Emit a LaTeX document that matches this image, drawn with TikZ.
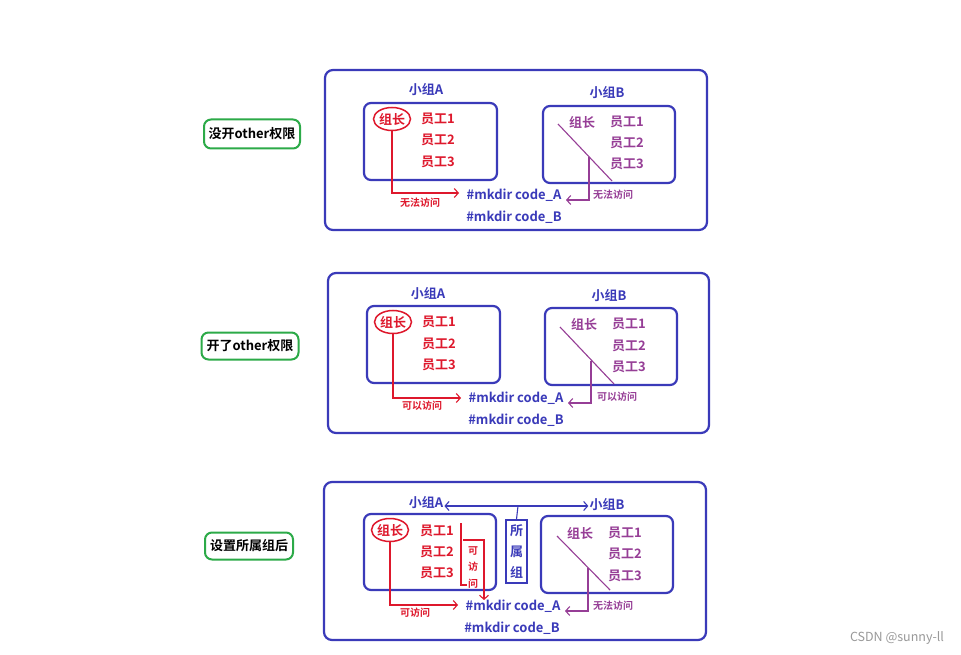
\documentclass[tikz,border=0pt]{standalone}
\usepackage{fontspec}
\setmainfont{Noto Sans CJK SC}[BoldFont={Noto Sans CJK SC Bold}]
\usetikzlibrary{arrows.meta,shapes.geometric}
\definecolor{cblue}{RGB}{58,58,185}
\definecolor{cred}{RGB}{222,24,44}
\definecolor{cpur}{RGB}{150,62,150}
\definecolor{cgreen}{RGB}{44,170,72}
\tikzset{
  outerbox/.style={draw=cblue,line width=2.2,rounded corners=8,inner sep=0,minimum width=#1},
  grpbox/.style={draw=cblue,line width=2.2,rounded corners=7,inner sep=0},
  hdr/.style={text=cblue,font=\bfseries\fontsize{13}{15}\selectfont,inner sep=0},
  memr/.style={text=cred,font=\bfseries\fontsize{13}{15}\selectfont,inner sep=0},
  memp/.style={text=cpur,font=\bfseries\fontsize{13}{15}\selectfont,inner sep=0},
  cmd/.style={text=cblue,font=\bfseries\fontsize{13}{15}\selectfont,inner sep=0},
  lblr/.style={text=cred,font=\bfseries\fontsize{10}{12}\selectfont,inner sep=0},
  lblp/.style={text=cpur,font=\bfseries\fontsize{10}{12}\selectfont,inner sep=0},
  tagbox/.style={draw=cgreen,line width=2,rounded corners=7,inner sep=0,text=black,font=\bfseries\fontsize{13}{15}\selectfont},
  leader/.style={ellipse,draw=cred,line width=1.5,text=cred,font=\bfseries\fontsize{13}{15}\selectfont,inner sep=0,minimum width=37,minimum height=23},
  rarr/.style={draw=cred,line width=1.1,-{Straight Barb[length=4,width=9]}},
  parr/.style={draw=cpur,line width=1.1,-{Straight Barb[length=4,width=9]}},
  diagl/.style={draw=cpur,line width=1.1},
}
\begin{document}
\begin{tikzpicture}[x=1pt,y=-1pt]
\useasboundingbox[fill=white] (0,0) rectangle (961,655);
% ===== Panel 1 =====
\node[outerbox=382,minimum height=160] (outer1) at (516,150) {};
\node[tagbox,minimum width=96,minimum height=29] (tag1) at (252,134) {没开other权限};
\node[hdr] (hA1) at (426,90) {小组A};
\node[grpbox,minimum width=133,minimum height=77] (boxA1) at (430.5,141.5) {};
\node[leader] (lead1) at (392,119) {组长};
\node[memr] (a11) at (438,119) {员工1};
\node[memr] (a12) at (438,140) {员工2};
\node[memr] (a13) at (438,162) {员工3};
\node[hdr] (hB1) at (607,93) {小组B};
\node[grpbox,minimum width=132,minimum height=77] (boxB1) at (609,144.5) {};
\node[memp] (lb1) at (582,122) {组长};
\node[memp] (b11) at (627,122) {员工1};
\node[memp] (b12) at (627,143) {员工2};
\node[memp] (b13) at (627,164) {员工3};
\coordinate (d1s) at (558,124);
\coordinate (d1e) at (612,181);
\draw[diagl] (d1s) -- (d1e);
\coordinate (p1) at (589,157);
\node[cmd] (cmdA1) at (514,195) {\#mkdir code\_A};
\node[cmd] (cmdB1) at (514,217) {\#mkdir code\_B};
\coordinate (t1r) at (459,193);
\coordinate (t1p) at (566,200);
\draw[rarr] (lead1.south) |- (t1r);
\draw[parr] (p1) |- (t1p);
\node[lblr] (l1r) at (420,203) {无法访问};
\node[lblp] (l1p) at (613,195) {无法访问};
% ===== Panel 2 =====
\node[outerbox=381,minimum height=160] (outer2) at (518.5,353) {};
\node[tagbox,minimum width=97,minimum height=27] (tag2) at (250,346) {开了other权限};
\node[hdr] (hA2) at (428,294) {小组A};
\node[grpbox,minimum width=133,minimum height=77] (boxA2) at (433.5,344.5) {};
\node[leader] (lead2) at (393,322) {组长};
\node[memr] (a21) at (439,322) {员工1};
\node[memr] (a22) at (439,344) {员工2};
\node[memr] (a23) at (439,365) {员工3};
\node[hdr] (hB2) at (609,296) {小组B};
\node[grpbox,minimum width=132,minimum height=77] (boxB2) at (611,346.5) {};
\node[memp] (lb2) at (584,324) {组长};
\node[memp] (b21) at (629,324) {员工1};
\node[memp] (b22) at (629,346) {员工2};
\node[memp] (b23) at (629,367) {员工3};
\coordinate (d2s) at (560,327);
\coordinate (d2e) at (614,384);
\draw[diagl] (d2s) -- (d2e);
\coordinate (p2) at (591,360.5);
\node[cmd] (cmdA2) at (516,398) {\#mkdir code\_A};
\node[cmd] (cmdB2) at (516,420) {\#mkdir code\_B};
\coordinate (t2r) at (461,398);
\coordinate (t2p) at (568,403);
\draw[rarr] (lead2.south) |- (t2r);
\draw[parr] (p2) |- (t2p);
\node[lblr] (l2r) at (422,406) {可以访问};
\node[lblp] (l2p) at (617,397) {可以访问};
% ===== Panel 3 =====
\node[outerbox=382,minimum height=158] (outer3) at (515,561) {};
\node[tagbox,minimum width=88,minimum height=27] (tag3) at (249,546) {设置所属组后};
\node[hdr] (hA3) at (426,503) {小组A};
\node[hdr] (hB3) at (607,505) {小组B};
\node[grpbox,minimum width=132,minimum height=76] (boxA3) at (430,552) {};
\node[leader] (lead3) at (390,530) {组长};
\node[memr] (a31) at (437,531) {员工1};
\node[memr] (a32) at (437,552) {员工2};
\node[memr] (a33) at (437,573) {员工3};
\coordinate (br1) at (461,523);
\coordinate (br2) at (461,585);
\coordinate (br3) at (467,585);
\draw[draw=cred,line width=1.1] (br1) -- (br2) -- (br3);
\coordinate (ka1) at (463,540);
\coordinate (ka2) at (484,540);
\coordinate (ka3) at (484,600);
\draw[rarr] (ka1) -- (ka2) -- (ka3);
\node[lblr,align=center,font=\bfseries\fontsize{10}{16.5}\selectfont] (kfw) at (473,567.5) {可\\访\\问};
\node[draw=cblue,line width=1.6,minimum width=21,minimum height=63,inner sep=0,text=cblue,align=center,font=\bfseries\fontsize{13}{21}\selectfont] (grp3) at (516.5,551.5) {所\\属\\组};
\coordinate (j3) at (518,506);
\draw[draw=cblue,line width=1.1] (grp3.north) -- (j3);
\draw[draw=cblue,line width=1.1,{Straight Barb[length=4,width=9]}-{Straight Barb[length=4,width=9]}] ([xshift=1]hA3.east |- j3) -- ([xshift=-1]hB3.west |- j3);
\node[grpbox,minimum width=132,minimum height=77] (boxB3) at (607,554.5) {};
\node[memp] (lb3) at (580,533) {组长};
\node[memp] (b31) at (625,533) {员工1};
\node[memp] (b32) at (625,554) {员工2};
\node[memp] (b33) at (625,576) {员工3};
\coordinate (d3s) at (557,536);
\coordinate (d3e) at (610,590);
\draw[diagl] (d3s) -- (d3e);
\coordinate (p3) at (588,567.6);
\node[cmd] (cmdA3) at (513,606) {\#mkdir code\_A};
\node[cmd] (cmdB3) at (512,628) {\#mkdir code\_B};
\coordinate (t3r) at (458,605);
\coordinate (t3p) at (565,611);
\draw[rarr] (lead3.south) |- (t3r);
\draw[parr] (p3) |- (t3p);
\node[lblr] (l3r) at (415,613) {可访问};
\node[lblp] (l3p) at (613,606) {无法访问};
% watermark
\node[text=black!40,font=\fontsize{12.5}{14}\selectfont,inner sep=0] (wm) at (897,638) {CSDN @sunny-ll};
\end{tikzpicture}
\end{document}
